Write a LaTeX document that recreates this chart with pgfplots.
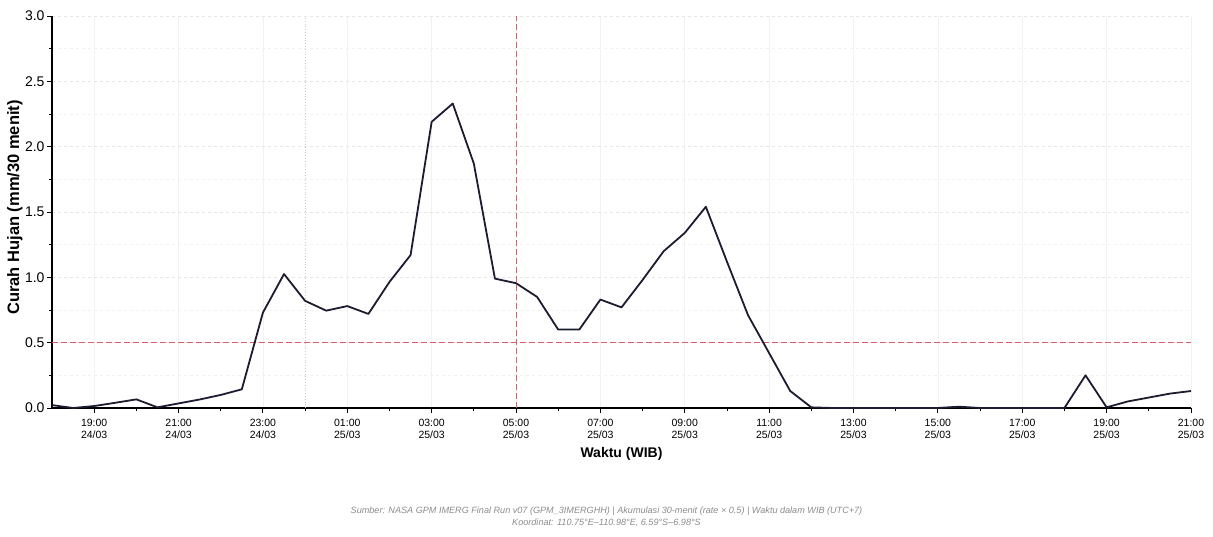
\documentclass[border=0pt]{standalone}
\usepackage{fontspec}
\setmainfont{Liberation Sans}
\usepackage{pgfplots}
\pgfplotsset{compat=1.18}
\definecolor{linec}{HTML}{1C1C30}
\definecolor{refred}{HTML}{D9606A}
\definecolor{gridc}{HTML}{E6E6E6}
\definecolor{gridm}{HTML}{F2F2F2}
\definecolor{gridx}{HTML}{F2F2F2}
\definecolor{footc}{HTML}{8C8C8C}
\pgfplotstableread{
h v
0 0.022
0.5 0.0
1 0.015
1.5 0.04
2 0.066
2.5 0.005
3 0.035
3.5 0.065
4 0.1
4.5 0.143
5 0.73
5.5 1.025
6 0.82
6.5 0.745
7 0.78
7.5 0.72
8 0.965
8.5 1.17
9 2.19
9.5 2.33
10 1.87
10.5 0.99
11 0.955
11.5 0.85
12 0.60
12.5 0.60
13 0.83
13.5 0.77
14 0.98
14.5 1.20
15 1.34
15.5 1.54
16 1.12
16.5 0.71
17 0.42
17.5 0.13
18 0.005
18.5 0
19 0
19.5 0
20 0
20.5 0
21 0
21.5 0.01
22 0
22.5 0
23 0
23.5 0
24 0
24.5 0.25
25 0.005
25.5 0.05
26 0.08
26.5 0.11
27 0.13
}\rain
\begin{document}
\begin{tikzpicture}[x=1pt,y=1pt]
\useasboundingbox (0,0) rectangle (1213,537);
\begin{axis}[
  at={(52pt,129pt)}, anchor=south west,
  scale only axis, width=1139pt, height=392pt,
  xmin=0, xmax=27, ymin=0, ymax=3,
  clip=false,
  axis x line*=bottom, axis y line*=left,
  axis line style={line width=1.2pt, black},
  tick align=outside,
  major tick length=5pt, minor tick length=3pt,
  every tick/.style={black, line width=0.9pt},
  xtick={1,3,...,27},
  minor xtick={2,4,...,26},
  xticklabels={19:00\\24/03,21:00\\24/03,23:00\\24/03,01:00\\25/03,03:00\\25/03,05:00\\25/03,07:00\\25/03,09:00\\25/03,11:00\\25/03,13:00\\25/03,15:00\\25/03,17:00\\25/03,19:00\\25/03,21:00\\25/03},
  xticklabel style={font=\fontsize{10.5}{12}\selectfont, align=center, yshift=-3pt},
  ytick={0,0.5,...,3},
  yticklabels={0.0,0.5,1.0,1.5,2.0,2.5,3.0},
  minor ytick={0.25,0.75,...,2.75},
  yticklabel style={font=\fontsize{14}{16}\selectfont, xshift=1pt},
  xmajorgrids, ymajorgrids, yminorgrids,
  x grid style={gridx, line width=0.6pt},
  major y grid style={gridc, dashed, line width=0.6pt},
  minor y grid style={gridm, dashed, line width=0.6pt},
  xlabel={Waktu (WIB)},
  xlabel style={font=\bfseries\fontsize{14}{16}\selectfont, at={(axis description cs:0.5,-0.117)}, anchor=center},
  ylabel={Curah Hujan (mm/30 menit)},
  ylabel style={font=\bfseries\fontsize{16.5}{19}\selectfont, at={(axis description cs:-0.0325,0.5115)}, anchor=center, rotate=0},
]
\addplot[gray!40, dotted, line width=0.8pt, forget plot] coordinates {(6,0) (6,3)};
\addplot[refred, dash pattern=on 6pt off 3pt, line width=0.9pt, forget plot] coordinates {(0,0.5) (27,0.5)};
\addplot[refred, dash pattern=on 6pt off 3pt, line width=0.9pt, forget plot] coordinates {(11,0) (11,3)};
\addplot[linec, line width=1.8pt, line join=round, no marks] table[x=h, y=v] {\rain};
\end{axis}
\node[font=\itshape\fontsize{9.1}{11}\selectfont, text=footc] at (606.5,26) {Sumber: NASA GPM IMERG Final Run v07 (GPM\_3IMERGHH) | Akumulasi 30-menit (rate × 0.5) | Waktu dalam WIB (UTC+7)};
\node[font=\itshape\fontsize{9.1}{11}\selectfont, text=footc] at (606.5,14.5) {Koordinat: 110.75°E–110.98°E, 6.59°S–6.98°S};
\end{tikzpicture}
\end{document}
